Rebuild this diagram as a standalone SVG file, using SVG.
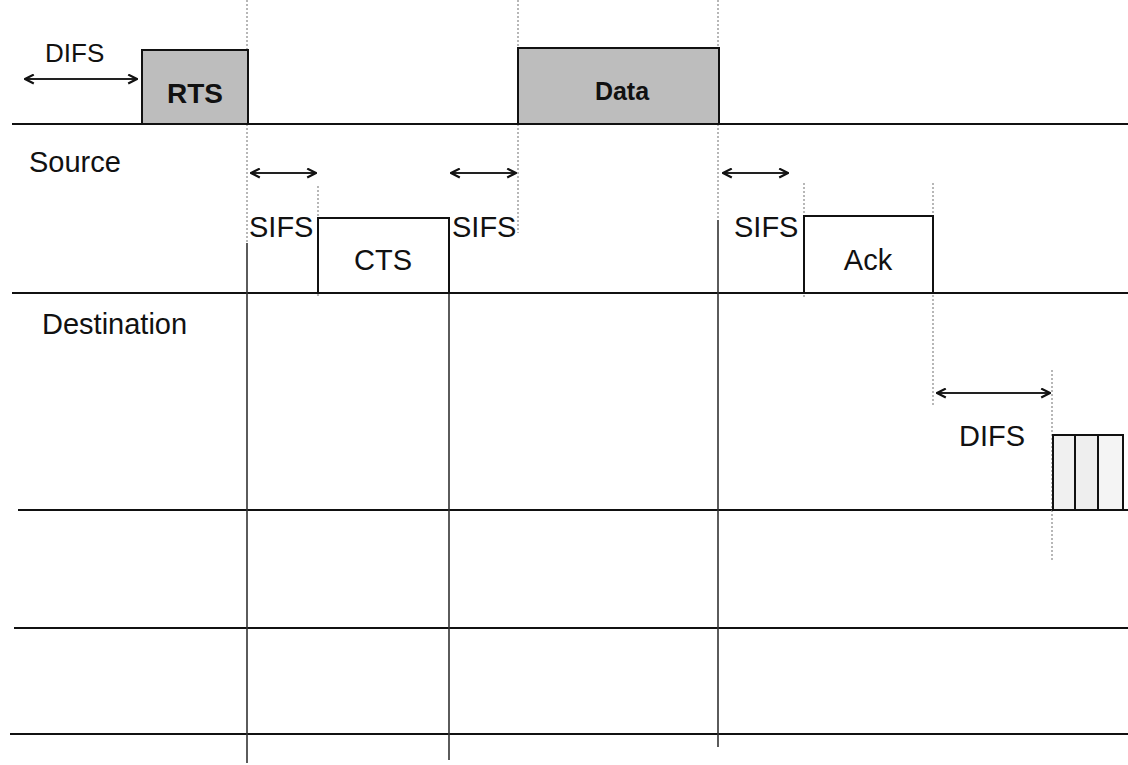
<svg xmlns="http://www.w3.org/2000/svg" width="1128" height="765" viewBox="0 0 1128 765">
<style>
.t{font-family:"Liberation Sans",Arial,sans-serif;font-size:29px;fill:#111}
.b{font-weight:bold}
.h{stroke:#111;stroke-width:2;fill:none}
.v{stroke:#333;stroke-width:1.6;fill:none}
.d{stroke:#888;stroke-width:1.2;stroke-dasharray:2 2;fill:none}
.box{stroke:#111;stroke-width:2}
.arr{stroke:#222;stroke-width:2;fill:none;marker-start:url(#ah);marker-end:url(#ah)}
</style>
<defs>
<marker id="ah" viewBox="0 0 10 10" refX="9" refY="5" markerWidth="11" markerHeight="11" markerUnits="userSpaceOnUse" orient="auto-start-reverse">
<path d="M1 1 L9 5 L1 9" fill="none" stroke="#111" stroke-width="2"/>
</marker>
</defs>
<rect width="1128" height="765" fill="#fff"/>
<g id="connectors">
<line class="h" x1="12" y1="124" x2="1128" y2="124"/>
<line class="h" x1="12" y1="293" x2="1128" y2="293"/>
<line class="h" x1="18" y1="510" x2="1128" y2="510"/>
<line class="h" x1="14" y1="628" x2="1128" y2="628"/>
<line class="h" x1="10" y1="734" x2="1128" y2="734"/>
<line class="d" x1="247" y1="0" x2="247" y2="243"/>
<line class="v" x1="247" y1="243" x2="247" y2="763"/>
<line class="d" x1="318" y1="186" x2="318" y2="298"/>
<line class="v" x1="449" y1="217" x2="449" y2="760"/>
<line class="d" x1="518" y1="0" x2="518" y2="233"/>
<line class="d" x1="718" y1="0" x2="718" y2="220"/>
<line class="v" x1="718" y1="220" x2="718" y2="747"/>
<line class="d" x1="804" y1="183" x2="804" y2="298"/>
<line class="d" x1="933" y1="183" x2="933" y2="405"/>
<line class="d" x1="1052" y1="370" x2="1052" y2="560"/>
<line class="arr" x1="25" y1="79" x2="137" y2="79"/>
<line class="arr" x1="251" y1="173" x2="316" y2="173"/>
<line class="arr" x1="451" y1="173" x2="516" y2="173"/>
<line class="arr" x1="723" y1="173" x2="788" y2="173"/>
<line class="arr" x1="937" y1="393" x2="1050" y2="393"/>
</g>
<g id="rts"><rect class="box" x="142" y="50" width="106" height="74" fill="#bdbdbd"/><text class="t b" x="195" y="103" text-anchor="middle" style="font-size:28px">RTS</text></g>
<g id="data"><rect class="box" x="518" y="48" width="201" height="76" fill="#bdbdbd"/><text class="t b" x="622" y="100" text-anchor="middle" style="font-size:25px">Data</text></g>
<g id="cts"><rect class="box" x="318" y="218" width="131" height="75" fill="#fff"/><text class="t" x="383" y="270" text-anchor="middle">CTS</text></g>
<g id="ack"><rect class="box" x="804" y="216" width="129" height="77" fill="#fff"/><text class="t" x="868" y="270" text-anchor="middle">Ack</text></g>
<g id="slots">
<rect class="box" x="1053" y="435" width="22" height="75" fill="#f0f0f0"/>
<rect class="box" x="1075" y="435" width="23" height="75" fill="#eeeeee"/>
<rect class="box" x="1098" y="435" width="25" height="75" fill="#f4f4f4"/>
</g>
<g id="labels">
<text class="t" x="45" y="62" style="font-size:26px">DIFS</text>
<text class="t" x="29" y="172">Source</text>
<text class="t" x="42" y="334">Destination</text>
<text class="t" x="249" y="237">SIFS</text>
<text class="t" x="452" y="237">SIFS</text>
<text class="t" x="734" y="237">SIFS</text>
<text class="t" x="959" y="446">DIFS</text>
</g>
</svg>
